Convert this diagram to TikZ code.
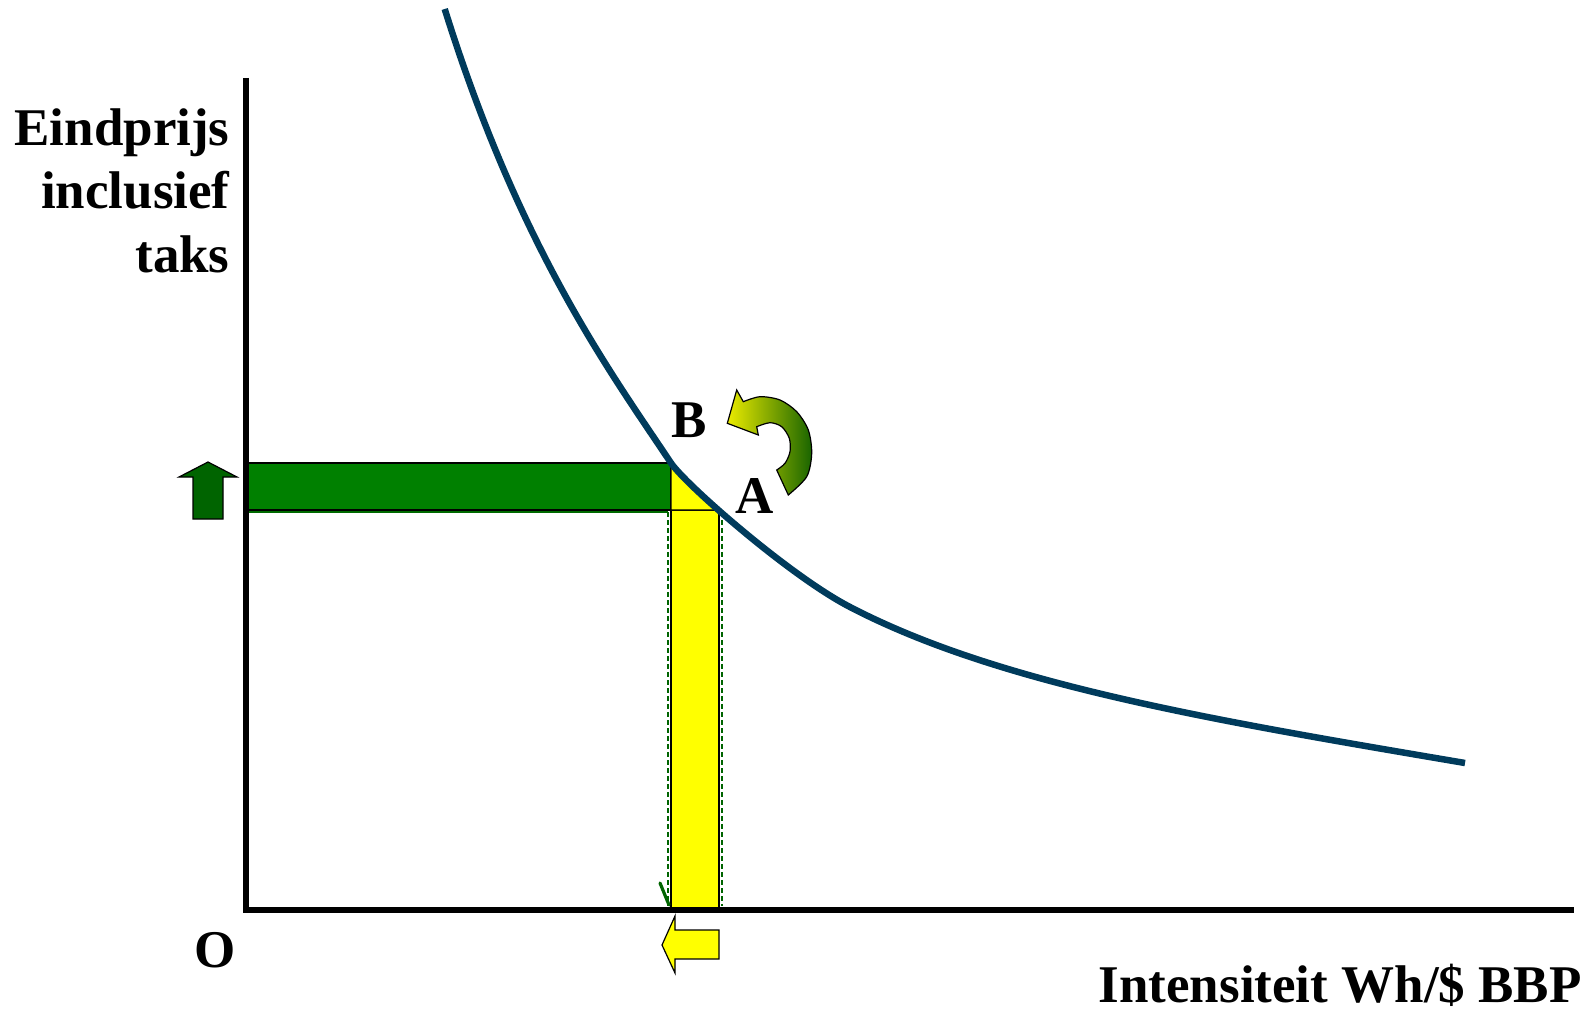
\documentclass[tikz,border=0pt]{standalone}
\usepackage{fontspec}
\setmainfont{Liberation Serif}
\definecolor{curveblue}{RGB}{0,59,92}
\definecolor{bargreen}{RGB}{0,128,0}
\definecolor{darkgr}{RGB}{0,100,0}
\definecolor{arrowyel}{RGB}{235,235,0}
\definecolor{arrowgrn}{RGB}{25,100,0}
\definecolor{pureyellow}{RGB}{255,255,0}
\tikzset{
  lab/.style={inner sep=0pt, font=\bfseries\fontsize{26.5}{30}\selectfont},
  axisline/.style={line width=2.75pt, black},
  shapeedge/.style={draw=black, line width=0.6pt, line join=miter},
  sidedash/.style={draw=darkgr, line width=1pt, dash pattern=on 2.5pt off 1.5pt}
}
\begin{document}
\begin{tikzpicture}[x=0.5pt,y=-0.5pt]
\useasboundingbox (0,0) rectangle (1594,1011);
% green horizontal bar
\fill[bargreen] (247,463) rectangle (671,510);
\draw[shapeedge] (247,463) rectangle (671,510);
\draw[darkgr!80!bargreen, line width=1pt] (247,512) -- (668,512);
% yellow vertical bar
\fill[pureyellow] (671,510) rectangle (719,908);
\draw[shapeedge] (671,908) -- (671,510) -- (719,510) -- (719,908);
\draw[sidedash] (668,512) -- (668,906);
\draw[sidedash] (722,512) -- (722,906);
% yellow triangle
\filldraw[fill=pureyellow, shapeedge] (671,463) -- (671,510) -- (719,510) -- cycle;
% small green tick
\draw[darkgr, line width=1.6pt, line cap=round] (660,883) -- (669,905);
% axes
\draw[axisline] (246,78) -- (246,910);
\draw[axisline] (243.25,910) -- (1574,910);
% demand curve
\draw[curveblue, line width=3.25pt]
  (444.7,9) .. controls (520,250) and (611,373) .. (671,463)
  .. controls (686,485) and (790,576) .. (850,607)
  .. controls (1000,685) and (1215,720.5) .. (1465,763);
% up arrow
\filldraw[fill=darkgr, shapeedge] (208,462) -- (237,477) -- (223,477) -- (223,519)
  -- (193,519) -- (193,477) -- (179,477) -- cycle;
% left arrow
\filldraw[fill=pureyellow, shapeedge] (662,945) -- (675,916) -- (675,930) -- (719,930)
  -- (719,959) -- (675,959) -- (675,973) -- cycle;
% curved arrow
\path[shapeedge, left color=arrowyel, right color=arrowgrn]
  (727.3,423.3) -- (736.7,390) -- (743.3,401.7)
  -- plot[smooth] coordinates {(743.3,401.7) (760,396.7) (780,400) (796.7,411.7)
     (808.3,430) (811.7,453.3) (806.7,476.7) (788.3,495)}
  -- (776.7,470)
  -- plot[smooth] coordinates {(776.7,470) (785,463.3) (790,451.7) (789.3,438.3)
     (781.7,426.7) (770,422.7) (756.7,426.7)}
  -- (758.3,435) -- cycle;
% labels
\node[lab, anchor=base east] (ylab1) at (230,145) {Eindprijs};
\node[lab, anchor=base east] (ylab2) at (230,208) {inclusief};
\node[lab, anchor=base east] (ylab3) at (230,272) {taks};
\node[lab, anchor=base east] (xlab) at (1582,1002) {Intensiteit Wh/\$ BBP};
\node[lab, anchor=base] (origin) at (215,967) {O};
\node[lab, anchor=base] (ptB) at (689,437) {B};
\node[lab, anchor=base] (ptA) at (755,513) {A};
\end{tikzpicture}
\end{document}
